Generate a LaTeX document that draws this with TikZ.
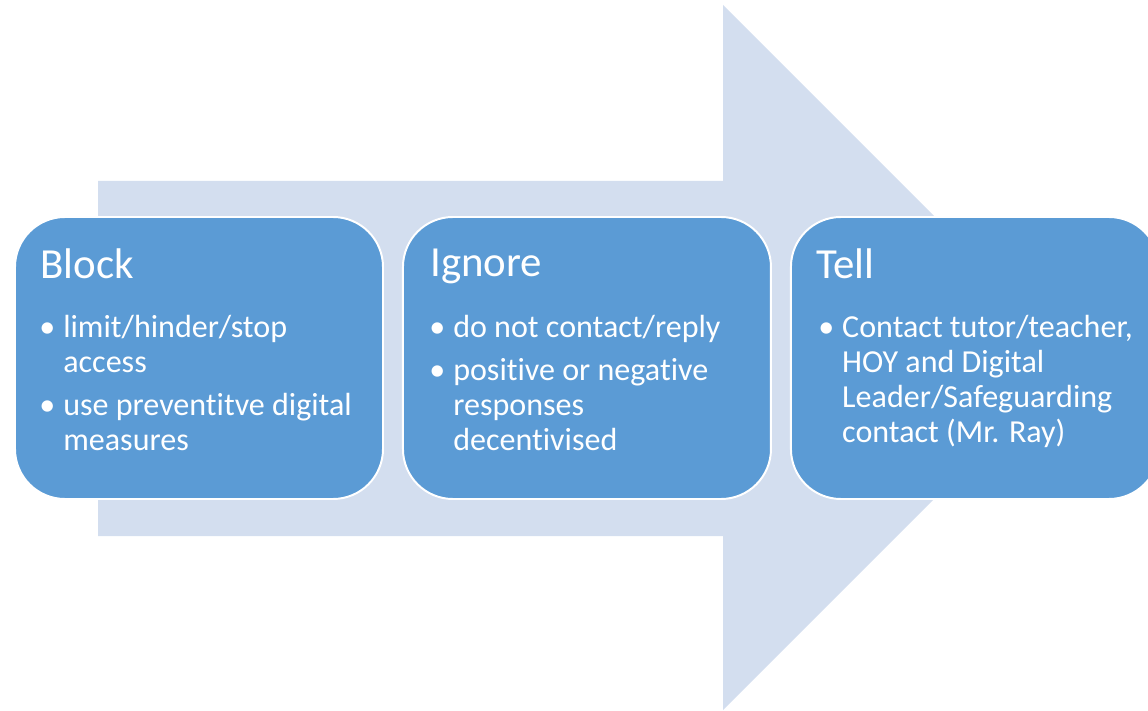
\documentclass[tikz,border=0pt]{standalone}
\usepackage{fontspec}
\setmainfont{Carlito}[Ligatures=NoCommon]
\usetikzlibrary{positioning}
\definecolor{arrowblue}{RGB}{211,222,239}
\definecolor{boxblue}{RGB}{91,155,213}
\newcommand{\bul}{\llap{\textbullet\hspace{0.2cm}}}
\begin{document}
\begin{tikzpicture}[
    stepbox/.style={draw=white, line width=1.4pt, fill=boxblue, rounded corners=1.25cm,
        minimum width=9.2cm, minimum height=7.05cm, inner sep=0pt},
    boxtitle/.style={anchor=north west, inner sep=0pt, text=white,
        font=\fontsize{30.5pt}{36pt}\selectfont},
    boxlist/.style={anchor=north west, inner sep=0pt, text=white, align=left,
        font=\fontsize{22.8pt}{24.8pt}\selectfont}]
	\useasboundingbox (0,0) rectangle (28.7,17.75);
	% big arrow behind the boxes
	\fill [arrowblue] (2.45,4.35) -- (18.075,4.35) -- (18.075,0) -- (26.89,8.8125)
		-- (18.075,17.625) -- (18.075,13.225) -- (2.45,13.225) -- cycle;
	% the three steps
	\node [stepbox] (block) at (4.975,8.8) {};
	\node [stepbox, right=0.45cm of block] (ignore) {};
	\node [stepbox, right=0.45cm of ignore] (tell) {};
	\node [boxtitle] (blocktitle) at ([shift={(0.65,-0.82)}]block.north west) {Block};
	\node [boxlist] (blocklist) at ([shift={(1.225,-2.48)}]block.north west)
		{\bul limit/hinder/stop\\access\\[0.2cm]\bul use preventitve digital\\measures};
	\node [boxtitle] (ignoretitle) at ([shift={(0.7,-0.82)}]ignore.north west) {Ignore};
	\node [boxlist] (ignorelist) at ([shift={(1.275,-2.48)}]ignore.north west)
		{\bul do not contact/reply\\[0.2cm]\bul positive or negative\\responses\\decentivised};
	\node [boxtitle] (telltitle) at ([shift={(0.65,-0.82)}]tell.north west) {Tell};
	\node [boxlist] (telllist) at ([shift={(1.3,-2.48)}]tell.north west)
		{\bul Contact tutor/teacher,\\HOY and Digital\\Leader/Safeguarding\\contact (Mr. Ray)};
\end{tikzpicture}
\end{document}
